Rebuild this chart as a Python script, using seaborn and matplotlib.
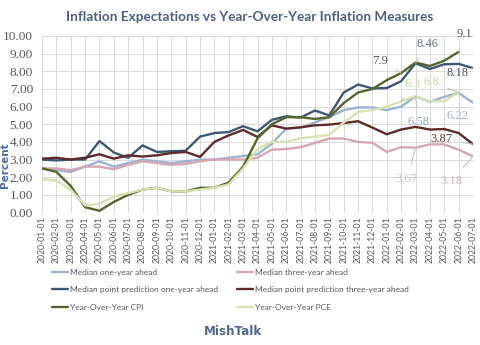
import numpy as np
import pandas as pd
import matplotlib
matplotlib.use("Agg")
import matplotlib.pyplot as plt
import seaborn as sns
from matplotlib.lines import Line2D

months = ["2020-01-01", "2020-02-01", "2020-03-01", "2020-04-01", "2020-05-01", "2020-06-01",
          "2020-07-01", "2020-08-01", "2020-09-01", "2020-10-01", "2020-11-01", "2020-12-01",
          "2021-01-01", "2021-02-01", "2021-03-01", "2021-04-01", "2021-05-01", "2021-06-01",
          "2021-07-01", "2021-08-01", "2021-09-01", "2021-10-01", "2021-11-01", "2021-12-01",
          "2022-01-01", "2022-02-01", "2022-03-01", "2022-04-01", "2022-05-01", "2022-06-01",
          "2022-07-01"]

one_year = [2.5, 2.4, 2.3, 2.6, 2.9, 2.6, 2.8, 3.0, 2.9, 2.8, 2.9, 3.0,
            3.0, 3.1, 3.2, 3.3, 3.9, 4.75, 4.8, 5.1, 5.4, 5.8, 5.95, 5.95,
            5.8, 6.0, 6.58, 6.27, 6.55, 6.78, 6.22]
three_year = [2.5, 2.5, 2.4, 2.6, 2.6, 2.45, 2.7, 2.9, 2.8, 2.7, 2.75, 2.9,
              3.0, 3.0, 3.0, 3.1, 3.56, 3.6, 3.7, 3.94, 4.19, 4.19, 4.0, 3.95,
              3.43, 3.7, 3.67, 3.86, 3.86, 3.56, 3.18]
point_one = [3.0, 2.95, 3.0, 3.0, 4.05, 3.4, 3.1, 3.8, 3.43, 3.47, 3.5, 4.3,
             4.5, 4.56, 4.89, 4.6, 5.25, 5.45, 5.38, 5.78, 5.5, 6.8, 7.25, 7.03,
             7.05, 7.44, 8.46, 8.13, 8.4, 8.42, 8.18]
point_three = [3.05, 3.1, 3.0, 3.1, 3.3, 3.05, 3.24, 3.17, 3.24, 3.37, 3.43, 3.15,
               4.0, 4.37, 4.68, 4.28, 4.94, 4.75, 4.83, 4.94, 4.98, 5.07, 5.17, 4.81,
               4.43, 4.7, 4.85, 4.7, 4.73, 4.5, 3.87]
cpi = [2.5, 2.3, 1.5, 0.3, 0.1, 0.6, 1.0, 1.3, 1.4, 1.2, 1.2, 1.4,
       1.4, 1.7, 2.6, 4.2, 5.0, 5.4, 5.4, 5.3, 5.4, 6.2, 6.8, 7.0,
       7.5, 7.9, 8.5, 8.3, 8.6, 9.1, np.nan]
pce = [1.9, 1.8, 1.3, 0.4, 0.5, 0.9, 1.1, 1.3, 1.4, 1.2, 1.2, 1.3,
       1.4, 1.6, 2.5, 3.6, 4.0, 4.0, 4.2, 4.3, 4.4, 5.1, 5.7, 5.8,
       6.0, 6.3, 6.6, 6.3, 6.3, 6.8, np.nan]

series_names = ["Median one-year ahead", "Median three-year ahead",
                "Median point prediction one-year ahead", "Median point prediction three-year ahead",
                "Year-Over-Year CPI", "Year-Over-Year PCE"]
series_vals = [one_year, three_year, point_one, point_three, cpi, pce]
colors = ["#9BB3D2", "#D6A7B3", "#3D5874", "#5E2A2A", "#56652C", "#D6E3B0"]

rows = []
for name, vals in zip(series_names, series_vals):
    for i, v in enumerate(vals):
        rows.append({"idx": i, "value": v, "series": name})
df = pd.DataFrame(rows).dropna()

sns.set_theme(style="white")
plt.rcParams["font.family"] = ["DejaVu Sans"]

fig = plt.figure(figsize=(4.8, 3.45), dpi=100)
ax = fig.add_axes([42 / 480, 1 - 212.5 / 345, (473 - 42) / 480, (212.5 - 36) / 345])

sns.lineplot(data=df, x="idx", y="value", hue="series", hue_order=series_names,
             palette=colors, linewidth=1.7, ax=ax, legend=False, zorder=3)

ax.set_xlim(0, 30)
ax.set_ylim(0, 10)
ax.set_xticks(range(31))
ax.set_xticklabels(months, rotation=90, fontsize=6.2, color="#595959", family="Lato")
ax.set_yticks(range(11))
ax.set_yticklabels([f"{v:.2f}" for v in range(11)], fontsize=9.6, color="#595959",
                   family="Liberation Serif")
ax.tick_params(axis="x", length=0, pad=3)
ax.tick_params(axis="y", length=0, pad=6.5)
ax.grid(True, color="#D9D9D9", linewidth=0.7, zorder=0)
for s in ax.spines.values():
    s.set_visible(False)
ax.set_xlabel("")
ax.set_ylabel("")

fig.text(0.0, 0.522, "Percent", rotation=90, ha="left", va="center",
         fontsize=7.5, fontweight="bold", color="#4A6FA5")

fig.text(0.521, 0.951, "Inflation Expectations vs Year-Over-Year Inflation Measures",
         ha="center", va="center", fontsize=9.8, fontweight="bold", color="#4A6280",
         family="Lato")

ann = [
    ("9.1", 29, cpi[29], 29.4, 10.1, "#595959"),
    ("8.46", 26, point_one[26], 26.8, 9.52, "#5B7593"),
    ("7.9", 25, cpi[25], 23.5, 8.58, "#595959"),
    ("8.18", 30, point_one[30], 28.9, 7.9, "#44546A"),
    ("6.3", 25, pce[25], 25.8, 7.28, "#C8D89A"),
    ("6.8", 29, pce[29], 27.1, 7.42, "#C8D89A"),
    ("6.58", 26, one_year[26], 26.2, 5.13, "#8EA9C8"),
    ("6.22", 30, one_year[30], 28.9, 5.47, "#9BB3D2"),
    ("3.87", 30, point_three[30], 27.8, 4.16, "#5E3A3A"),
    ("3.67", 26, three_year[26], 25.4, 1.9, "#D8B8C2"),
    ("3.18", 30, three_year[30], 28.5, 1.78, "#D8B8C2"),
]
for txt, xi, yv, tx, ty, c in ann:
    ax.annotate(txt, xy=(xi, yv), xytext=(tx, ty), textcoords="data",
                fontsize=9, color=c, family="Liberation Serif", ha="center", va="center",
                arrowprops=dict(arrowstyle="-", color="#BFBFBF", lw=0.7,
                                shrinkA=4, shrinkB=0),
                annotation_clip=False, zorder=5)

order = [0, 2, 4, 1, 3, 5]
handles = [Line2D([0], [0], color=colors[i], lw=1.7) for i in order]
labels = [series_names[i] for i in order]
leg = fig.legend(handles, labels, loc="upper left", bbox_to_anchor=(52 / 480, 1 - 268.5 / 345),
                 ncol=2, frameon=False, borderpad=0, borderaxespad=0,
                 prop={"family": "Lato", "size": 6.0}, handlelength=1.95,
                 handletextpad=0.2, columnspacing=2.3, labelspacing=1.3)
for t in leg.get_texts():
    t.set_color("#595959")

fig.text(0.485, 0.039, "MishTalk", ha="center", va="center", fontsize=8.6,
         fontweight="bold", color="#4F6790")

fig.savefig("out.png", dpi=100)
